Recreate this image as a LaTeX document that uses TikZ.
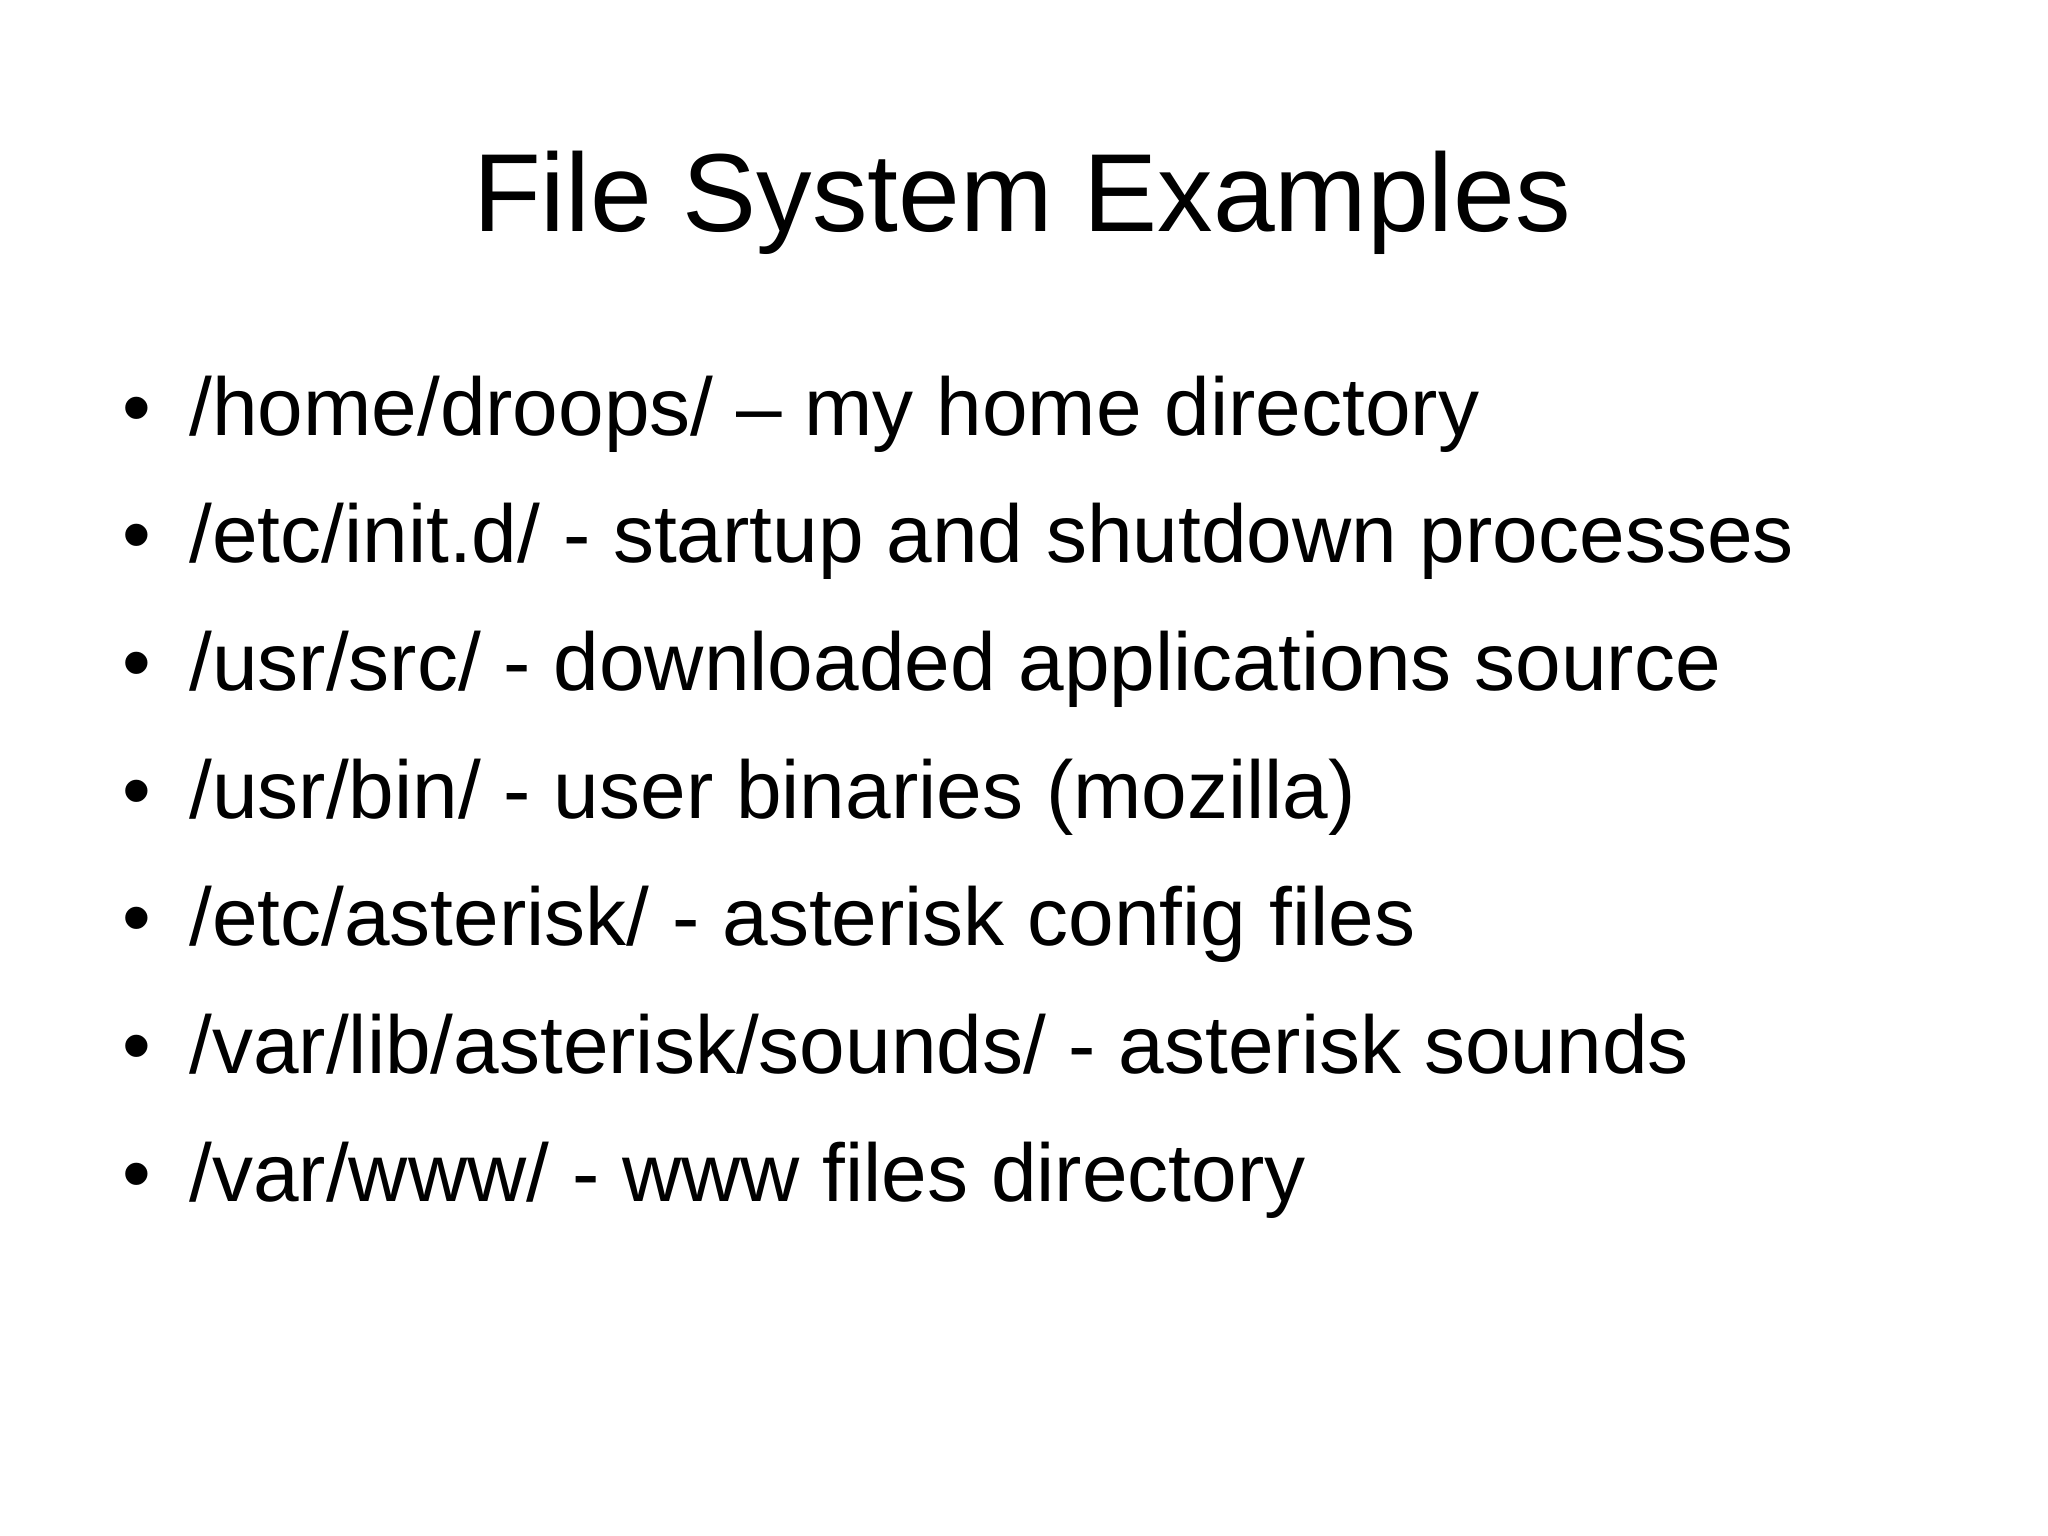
\documentclass[tikz,border=0pt]{standalone}
\usepackage{fontspec}
\setmainfont{Liberation Sans}
\begin{document}
\begin{tikzpicture}[x=0.5pt,y=-0.5pt,
  item/.style={anchor=base west,inner sep=0pt,font=\fontsize{41}{49}\selectfont},
  dot/.style={anchor=base,inner sep=0pt,font=\fontsize{41}{49}\selectfont}]
\useasboundingbox[fill=white] (0,0) rectangle (2048,1535);
\node[anchor=base,inner sep=0pt,font=\fontsize{55.5}{66}\selectfont] (title) at (1022,232) {File System Examples};
\foreach \t [count=\i] in {/home/droops/ – my home directory,
  /etc/init.d/ - startup and shutdown processes,
  /usr/src/ - downloaded applications source,
  /usr/bin/ - user binaries (mozilla),
  /etc/asterisk/ - asterisk config files,
  /var/lib/asterisk/sounds/ - asterisk sounds,
  /var/www/ - www files directory}{
  \node[dot] (b\i) at (137,{435+(\i-1)*127.7}) {•};
  \node[item] (t\i) at (189,{435+(\i-1)*127.7}) {\t};
}
\end{tikzpicture}
\end{document}
